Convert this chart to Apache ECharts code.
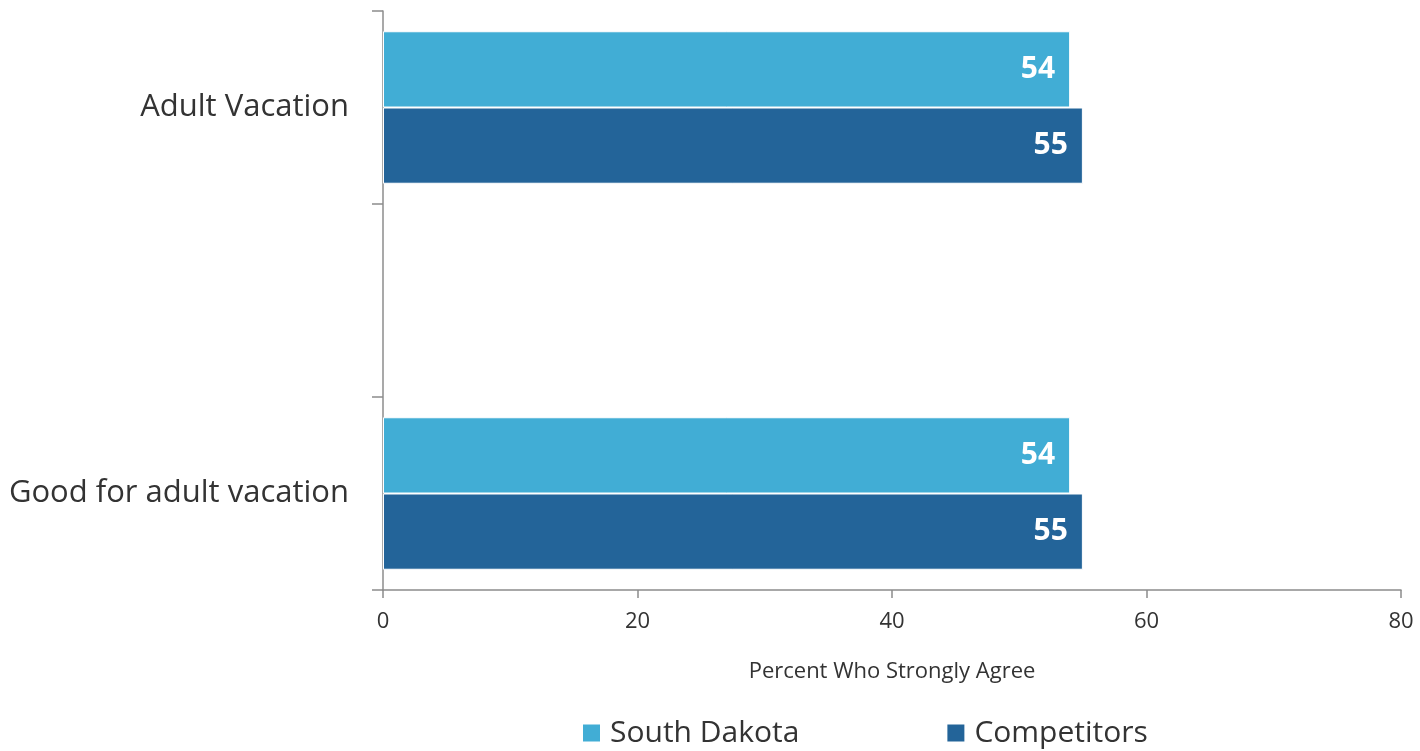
<!DOCTYPE html>
<html>
<head>
<meta charset="utf-8">
<script src="https://cdn.jsdelivr.net/npm/echarts@6/dist/echarts.min.js"></script>
<style>
  html, body { margin: 0; padding: 0; background: #ffffff; }
  #chart { width: 1420px; height: 751px; }
</style>
</head>
<body>
<div id="chart"></div>
<script>
// Categories, top to bottom (the middle slot is an empty spacer row)
const categories = ['Adult Vacation', '', 'Good for adult vacation'];
const seriesNames = ['South Dakota', 'Competitors'];
const southDakota = [54, null, 54];
const competitors = [55, null, 55];
const xTicks = { min: 0, max: 80, interval: 20 };
const colors = ['#41ADD5', '#236499'];

const font = 'Open Sans, Lato, sans-serif';

const chart = echarts.init(document.getElementById('chart'), null, { renderer: 'canvas' });

const labelStyle = {
  show: true,
  position: 'insideRight',
  distance: 15,
  color: '#ffffff',
  fontFamily: font,
  fontWeight: 'bold',
  fontSize: 30,
  formatter: p => Math.round(p.value)
};

chart.setOption({
  animation: false,
  color: colors,
  grid: { left: 383, right: 19, top: 11, bottom: 161, containLabel: false },
  legend: {
    top: 713,
    left: 576,
    itemGap: 146,
    itemWidth: 19,
    itemHeight: 19,
    icon: 'rect',
    textStyle: { fontFamily: font, fontSize: 30, color: '#333333', padding: [0, 0, 0, 4] },
    data: seriesNames
  },
  xAxis: {
    type: 'value',
    min: xTicks.min,
    max: xTicks.max,
    interval: xTicks.interval,
    name: 'Percent Who Strongly Agree',
    nameLocation: 'middle',
    nameGap: 71,
    nameTextStyle: { fontFamily: font, fontSize: 22, color: '#333333' },
    axisLine: { show: true, lineStyle: { color: '#8c8c8c', width: 1.5 } },
    axisTick: { show: true, length: 8, lineStyle: { color: '#8c8c8c', width: 1.5 } },
    axisLabel: { fontFamily: font, fontSize: 22, color: '#333333', margin: 21 },
    splitLine: { show: false }
  },
  yAxis: {
    type: 'category',
    data: categories,
    inverse: true,
    axisLine: { show: true, lineStyle: { color: '#8c8c8c', width: 1.5 } },
    axisTick: { show: true, length: 11, lineStyle: { color: '#8c8c8c', width: 1.5 } },
    axisLabel: { fontFamily: font, fontSize: 31, color: '#333333', margin: 34 }
  },
  series: [
    {
      name: seriesNames[0],
      type: 'bar',
      data: southDakota,
      barGap: '0%',
      barCategoryGap: '21%',
      itemStyle: { color: colors[0], borderColor: '#ffffff', borderWidth: 1 },
      label: labelStyle
    },
    {
      name: seriesNames[1],
      type: 'bar',
      data: competitors,
      itemStyle: { color: colors[1], borderColor: '#ffffff', borderWidth: 1 },
      label: labelStyle
    }
  ]
});
</script>
</body>
</html>
